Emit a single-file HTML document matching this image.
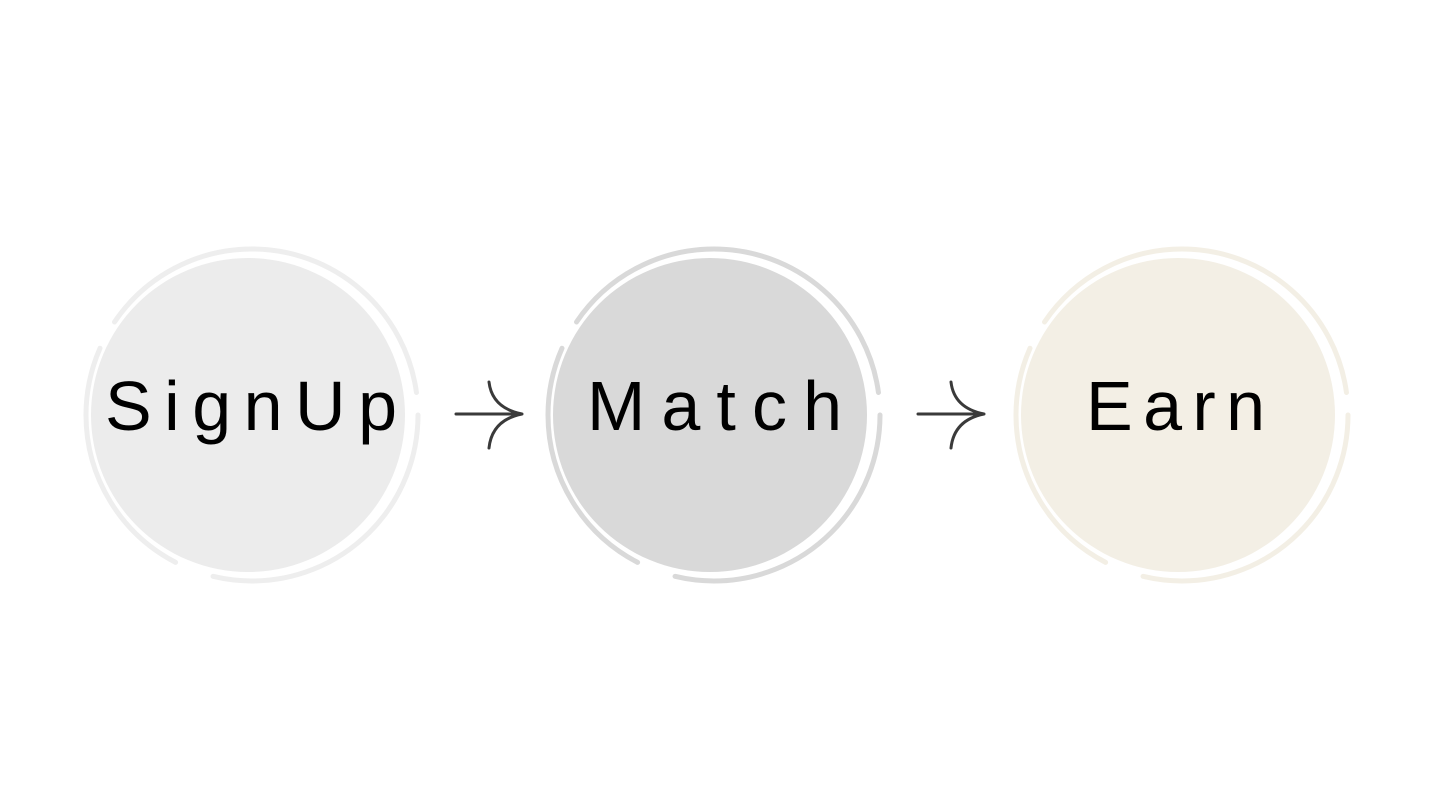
<!DOCTYPE html>
<html><head><style>html,body{margin:0;padding:0;background:#fff}svg{display:block}</style></head>
<body>
<svg width="1440" height="810" viewBox="0 0 1440 810" xmlns="http://www.w3.org/2000/svg">
<g fill="none" stroke-linecap="round">
<circle cx="252" cy="415" r="166" stroke="#eeeeee" stroke-width="5" stroke-dasharray="300 40 250 30 400"/>
<circle cx="714" cy="415" r="166" stroke="#d9d9d9" stroke-width="5" stroke-dasharray="300 40 250 30 400"/>
<circle cx="1182" cy="415" r="166" stroke="#f3efe5" stroke-width="5" stroke-dasharray="300 40 250 30 400"/>
</g>
<circle cx="248" cy="415" r="157" fill="#ececec"/>
<circle cx="710" cy="415" r="157" fill="#d9d9d9"/>
<circle cx="1178" cy="415" r="157" fill="#f3efe5"/>
<g fill="#000" font-family="Liberation Sans, sans-serif" font-size="70">
<text x="105" y="430" textLength="292" lengthAdjust="spacing">SignUp</text>
<text x="587" y="430" textLength="255" lengthAdjust="spacing">Match</text>
<text x="1086" y="430" textLength="179" lengthAdjust="spacing">Earn</text>
</g>
<g fill="none" stroke="#3a3a3a" stroke-width="3" stroke-linecap="round">
<path d="M456 414H522M489 382Q492 408 522 414Q492 420 489 448"/>
<path d="M918 414H984M951 382Q954 408 984 414Q954 420 951 448"/>
</g>
</svg>
</body></html>
